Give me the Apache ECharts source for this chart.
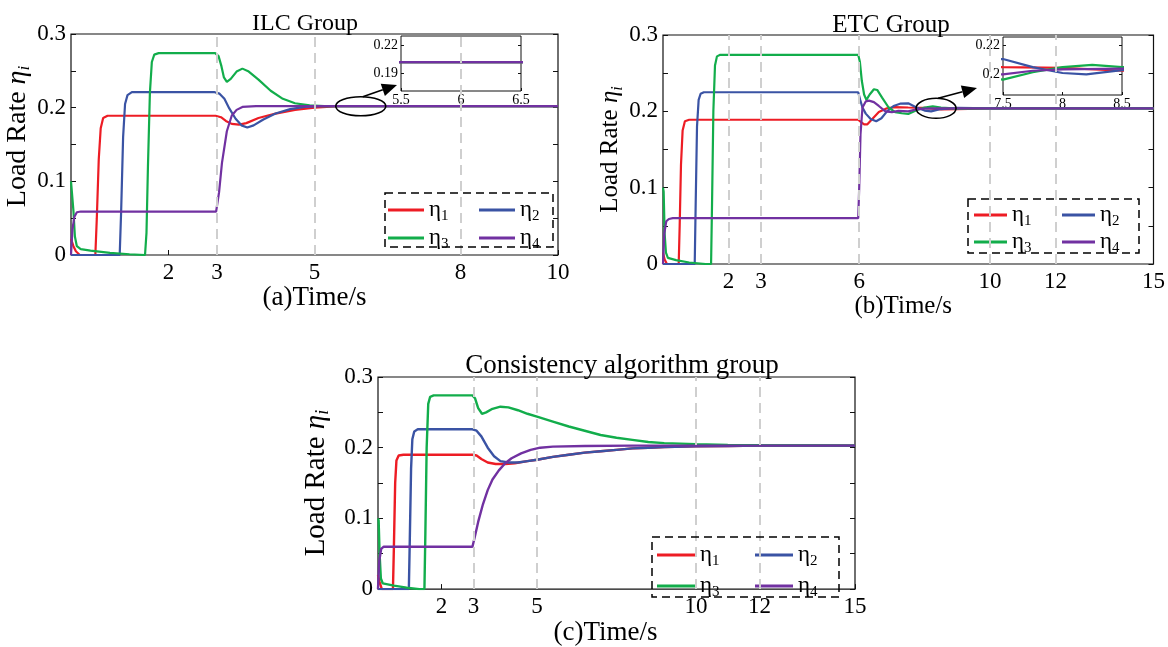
<!DOCTYPE html>
<html>
<head>
<meta charset="utf-8">
<script src="https://cdn.jsdelivr.net/npm/echarts@6/dist/echarts.min.js"></script>
<style>
html,body{margin:0;padding:0;background:#fff}
#main{width:1168px;height:647px}
</style>
</head>
<body>
<div id="main"></div>
<script>
const FONT = '"Liberation Serif","Times New Roman",serif';

const etaNames = ['η1', 'η2', 'η3', 'η4'];
const etaColors = ['#ed1c24', '#3a53a4', '#12ad4b', '#7131a1'];

// tick labels and dashed reference instants (s)
const ilcTicks = [2, 3, 5, 8, 10];
const ilcMarks = [3, 5, 8];
const etcTicks = [2, 3, 6, 10, 12, 15];
const etcMarks = [2, 3, 6, 10, 12];
const conTicks = [2, 3, 5, 10, 12, 15];
const conMarks = [3, 5, 10, 12];
const rateLabels = [0, 0.1, 0.2, 0.3];
const rateTicks = [0, 0.05, 0.1, 0.15, 0.2, 0.25, 0.3];
const ilcZoomX = [5.5, 6, 6.5];
const ilcZoomY = [0.19, 0.22];
const etcZoomX = [7.5, 8, 8.5];
const etcZoomY = [0.2, 0.22];

// (a) ILC group: [time, load rate]
const ilcEta1 = [[0,0.022],[0.05,0.012],[0.1,0.005],[0.18,0],[0.5,0],[0.53,0.05],[0.57,0.13],[0.61,0.172],[0.66,0.186],[0.75,0.189],[1,0.189],[2.97,0.189],[3.08,0.187],[3.18,0.182],[3.3,0.178],[3.45,0.177],[3.6,0.179],[3.85,0.186],[4.2,0.192],[4.6,0.197],[5,0.2],[5.5,0.202],[10,0.202]];
const ilcEta2 = [[0,0],[1.0,0],[1.03,0.06],[1.07,0.16],[1.11,0.205],[1.16,0.217],[1.25,0.221],[2.95,0.221],[3.05,0.219],[3.15,0.212],[3.25,0.199],[3.38,0.185],[3.5,0.176],[3.62,0.173],[3.75,0.176],[3.95,0.184],[4.2,0.192],[4.5,0.198],[4.8,0.201],[5.1,0.202],[10,0.202]];
const ilcEta3 = [[0,0.1],[0.02,0.098],[0.05,0.06],[0.08,0.025],[0.12,0.012],[0.2,0.008],[0.4,0.006],[0.8,0.003],[1.2,0.001],[1.52,0],[1.55,0.03],[1.58,0.12],[1.62,0.22],[1.66,0.262],[1.71,0.272],[1.8,0.274],[2.96,0.274],[3.03,0.27],[3.09,0.256],[3.14,0.241],[3.2,0.235],[3.28,0.239],[3.4,0.249],[3.52,0.253],[3.65,0.249],[3.85,0.238],[4.1,0.223],[4.35,0.212],[4.6,0.206],[4.9,0.203],[5.2,0.202],[10,0.202]];
const ilcEta4 = [[0,0],[0.03,0.035],[0.07,0.052],[0.12,0.058],[0.2,0.059],[2.98,0.059],[3.04,0.085],[3.1,0.125],[3.2,0.168],[3.3,0.189],[3.4,0.197],[3.52,0.201],[3.8,0.202],[10,0.202]];

// (b) ETC group
const etcEta1 = [[0,0.015],[0.05,0.006],[0.12,0],[0.48,0],[0.51,0.05],[0.55,0.13],[0.6,0.175],[0.67,0.187],[0.8,0.189],[5.97,0.189],[6.05,0.186],[6.15,0.183],[6.25,0.183],[6.4,0.19],[6.6,0.199],[6.85,0.204],[7.1,0.2055],[7.5,0.205],[8.0,0.2045],[8.5,0.2025],[9.0,0.203],[10,0.204],[15,0.204]];
const etcEta2 = [[0,0],[0.97,0],[1.0,0.08],[1.04,0.18],[1.09,0.215],[1.15,0.223],[1.25,0.225],[5.97,0.225],[6.03,0.215],[6.1,0.205],[6.2,0.197],[6.35,0.19],[6.52,0.187],[6.68,0.191],[6.85,0.2],[7.05,0.207],[7.25,0.21],[7.5,0.2105],[7.75,0.205],[8.0,0.201],[8.2,0.2],[8.5,0.203],[9.0,0.2045],[10,0.204],[15,0.204]];
const etcEta3 = [[0,0.1],[0.02,0.095],[0.05,0.04],[0.09,0.015],[0.15,0.008],[0.4,0.005],[0.8,0.002],[1.3,0],[1.47,0],[1.5,0.08],[1.54,0.2],[1.59,0.26],[1.65,0.272],[1.75,0.274],[5.97,0.274],[6.02,0.265],[6.08,0.24],[6.15,0.222],[6.22,0.215],[6.32,0.222],[6.45,0.229],[6.55,0.228],[6.7,0.218],[6.9,0.205],[7.1,0.199],[7.3,0.1975],[7.5,0.1965],[7.75,0.2015],[8.0,0.205],[8.25,0.2065],[8.5,0.205],[9.0,0.2035],[10,0.204],[15,0.204]];
const etcEta4 = [[0,0],[0.04,0.04],[0.1,0.056],[0.18,0.059],[0.3,0.06],[5.97,0.06],[6.0,0.1],[6.04,0.17],[6.1,0.205],[6.2,0.213],[6.3,0.214],[6.45,0.212],[6.6,0.207],[6.8,0.2],[7.0,0.199],[7.2,0.2005],[7.5,0.2],[7.75,0.2025],[8.0,0.2035],[8.5,0.204],[10,0.204],[15,0.204]];

// (c) consistency algorithm group
const conEta1 = [[0,0.02],[0.05,0.01],[0.12,0],[0.47,0],[0.5,0.06],[0.54,0.15],[0.58,0.182],[0.65,0.189],[0.8,0.19],[2.97,0.19],[3.1,0.189],[3.25,0.184],[3.45,0.179],[3.7,0.177],[4.0,0.177],[4.3,0.178],[4.7,0.181],[5.0,0.183],[5.5,0.187],[6.0,0.19],[6.5,0.193],[7.0,0.195],[7.5,0.197],[8.0,0.199],[8.5,0.2],[9.0,0.201],[10,0.202],[11,0.2025],[12,0.203],[15,0.203]];
const conEta2 = [[0,0],[0.97,0],[1.0,0.07],[1.04,0.17],[1.08,0.212],[1.14,0.223],[1.25,0.226],[2.97,0.226],[3.1,0.224],[3.25,0.216],[3.45,0.2],[3.65,0.188],[3.85,0.181],[4.1,0.179],[4.4,0.179],[4.7,0.181],[5.0,0.183],[5.5,0.187],[6.0,0.19],[6.5,0.193],[7.0,0.195],[7.5,0.197],[8.0,0.199],[8.5,0.2],[9.0,0.201],[10,0.202],[11,0.2025],[12,0.203],[15,0.203]];
const conEta3 = [[0,0.1],[0.02,0.097],[0.05,0.05],[0.09,0.015],[0.15,0.008],[0.5,0.005],[0.9,0.002],[1.3,0],[1.46,0],[1.49,0.08],[1.53,0.2],[1.58,0.262],[1.64,0.272],[1.75,0.274],[2.97,0.274],[3.05,0.27],[3.15,0.256],[3.27,0.248],[3.4,0.25],[3.6,0.255],[3.85,0.258],[4.1,0.257],[4.4,0.253],[4.7,0.248],[5.0,0.244],[5.5,0.237],[6.0,0.23],[6.5,0.224],[7.0,0.218],[7.5,0.214],[8.0,0.211],[8.5,0.208],[9.0,0.2065],[10,0.205],[11,0.204],[12,0.2035],[15,0.203]];
const conEta4 = [[0,0],[0.04,0.04],[0.1,0.057],[0.18,0.06],[2.97,0.06],[3.05,0.075],[3.15,0.095],[3.3,0.12],[3.45,0.14],[3.6,0.155],[3.8,0.168],[4.0,0.178],[4.2,0.185],[4.5,0.192],[4.8,0.197],[5.1,0.2],[5.5,0.2015],[6.5,0.2025],[8,0.203],[15,0.203]];

const ilcData = [ilcEta1, ilcEta2, ilcEta3, ilcEta4];
const etcData = [etcEta1, etcEta2, etcEta3, etcEta4];
const conData = [conEta1, conEta2, conEta3, conEta4];

const chart = echarts.init(document.getElementById('main'), null, {renderer: 'canvas'});

const axisColor = '#111';

function timeAxis(gridIndex, max, ticks, nameText, nameGap, nameSize, shiftLeft) {
  return {
    type: 'value', gridIndex, min: 0, max, position: 'bottom',
    axisLine: {show: false},
    splitLine: {show: false},
    axisTick: {show: true, inside: true, length: 5, customValues: ticks, lineStyle: {color: axisColor, width: 1}},
    axisLabel: {show: true, customValues: ticks, margin: 6, color: '#000', fontFamily: FONT, fontSize: 23},
    name: nameText, nameLocation: 'middle', nameGap,
    nameTextStyle: {color: '#000', fontFamily: FONT, fontSize: nameSize, padding: [0, 2 * shiftLeft, 0, 0]}
  };
}

function rateAxis(gridIndex, nameGap, size, shiftUp) {
  const sub = Math.round(size * 0.62);
  return {
    type: 'value', gridIndex, min: 0, max: 0.3, position: 'left',
    axisLine: {show: false},
    splitLine: {show: false},
    axisTick: {show: true, inside: true, length: 5, customValues: rateTicks, lineStyle: {color: axisColor, width: 1}},
    axisLabel: {show: true, customValues: rateLabels, margin: 5, color: '#000', fontFamily: FONT, fontSize: 23,
      formatter: v => v === 0 ? '0' : v.toFixed(1)},
    name: '{n|Load Rate }{e|η}{i|i}', nameLocation: 'middle', nameGap,
    nameTextStyle: {color: '#000', fontFamily: FONT, fontSize: size, padding: [0, 0, 0, 2 * shiftUp],
      rich: {
        n: {fontFamily: FONT, fontSize: size, lineHeight: size},
        e: {fontFamily: FONT, fontSize: size, fontStyle: 'italic', lineHeight: size},
        i: {fontFamily: FONT, fontSize: sub, fontStyle: 'italic', lineHeight: size - 14, padding: [14, 0, 0, 0]}
      }}
  };
}

function mirrorRate(gridIndex, min, max, ticks, len) {
  return {
    type: 'value', gridIndex, min, max, position: 'right',
    axisLine: {show: false}, splitLine: {show: false}, axisLabel: {show: false},
    axisTick: {show: true, inside: true, length: len, customValues: ticks, lineStyle: {color: axisColor, width: 1}}
  };
}

function zoomX(gridIndex, min, max, ticks) {
  return {
    type: 'value', gridIndex, min, max, position: 'bottom',
    axisLine: {show: false}, splitLine: {show: false},
    axisTick: {show: true, inside: true, length: 3, customValues: ticks, lineStyle: {color: axisColor, width: 1}},
    axisLabel: {show: true, customValues: ticks, margin: 2, color: '#000', fontFamily: FONT, fontSize: 14,
      showMinLabel: true, showMaxLabel: true, hideOverlap: false, formatter: v => String(v)}
  };
}

function zoomY(gridIndex, min, max, ticks) {
  return {
    type: 'value', gridIndex, min, max, position: 'left',
    axisLine: {show: false}, splitLine: {show: false},
    axisTick: {show: true, inside: true, length: 3, customValues: ticks, lineStyle: {color: axisColor, width: 1}},
    axisLabel: {show: true, customValues: ticks, margin: 3, color: '#000', fontFamily: FONT, fontSize: 14,
      formatter: v => v === 0.2 ? '0.2' : v.toFixed(2)}
  };
}

function curves(dataSet, xi, yi, width) {
  return dataSet.map((d, k) => ({
    type: 'line', name: etaNames[k], xAxisIndex: xi, yAxisIndex: yi,
    data: d, showSymbol: false, symbol: 'none', clip: true, z: 3,
    lineStyle: {color: etaColors[k], width}, itemStyle: {color: etaColors[k]},
    emphasis: {disabled: true}
  }));
}

function markers(xi, yi, marks) {
  return {
    type: 'line', xAxisIndex: xi, yAxisIndex: yi, data: [], z: 1, silent: true,
    markLine: {
      silent: true, symbol: ['none', 'none'], label: {show: false}, animation: false,
      lineStyle: {type: [10, 6], color: '#cfcfcf', width: 2},
      emphasis: {disabled: true},
      data: marks.map(v => ({xAxis: v}))
    }
  };
}

// one legend entry per item so the 2x2 layout sits on fixed columns and rows
function legendItems(cols, rows, iconW) {
  const out = [];
  etaNames.forEach((name, k) => {
    const lh = 22;
    out.push({
      data: [name], left: cols[k % 2], top: rows[Math.floor(k / 2)] - lh / 2,
      itemWidth: iconW, itemHeight: 3, icon: 'rect', padding: 0,
      selectedMode: false,
      formatter: n => '{e|η}{s|' + n.slice(1) + '}',
      textStyle: {
        color: '#000', fontFamily: FONT, fontSize: 23,
        rich: {
          e: {fontFamily: FONT, fontSize: 23, lineHeight: lh, color: '#000'},
          s: {fontFamily: FONT, fontSize: 15, lineHeight: lh - 13, padding: [13, 0, 0, 0], color: '#000'}
        }
      }
    });
  });
  return out;
}

const gridBox = {show: true, borderColor: axisColor, borderWidth: 1.2, backgroundColor: 'transparent'};
const titleStyle = size => ({fontFamily: FONT, fontSize: size, fontWeight: 'normal', color: '#000'});

const option = {
  animation: false,
  backgroundColor: '#fff',
  title: [
    {text: 'ILC Group', left: 300, top: 7, textAlign: 'center', textStyle: titleStyle(24)},
    {text: 'ETC Group', left: 886, top: 8, textAlign: 'center', textStyle: titleStyle(25)},
    {text: 'Consistency algorithm group', left: 617, top: 347, textAlign: 'center', textStyle: titleStyle(27)}
  ],
  grid: [
    Object.assign({left: 71, top: 34, width: 487, height: 221}, gridBox),
    Object.assign({left: 663, top: 35, width: 493, height: 229}, gridBox),
    Object.assign({left: 378, top: 377, width: 477, height: 226}, gridBox),
    Object.assign({left: 401, top: 36, width: 120, height: 55}, gridBox, {borderWidth: 1}),
    Object.assign({left: 1003, top: 37, width: 119, height: 58}, gridBox, {borderWidth: 1})
  ],
  xAxis: [
    timeAxis(0, 10, ilcTicks, '(a)Time/s', 27, 27, 0),
    timeAxis(1, 15, etcTicks, '(b)Time/s', 25, 25, 5),
    timeAxis(2, 15, conTicks, '(c)Time/s', 14, 27, 11),
    zoomX(3, 5.5, 6.5, ilcZoomX),
    zoomX(4, 7.5, 8.5, etcZoomX)
  ],
  yAxis: [
    rateAxis(0, 37, 28, 8),
    rateAxis(1, 30, 25, 0),
    rateAxis(2, 47, 29, 0),
    zoomY(3, 0.1705, 0.2305, ilcZoomY),
    zoomY(4, 0.186, 0.2255, etcZoomY),
    mirrorRate(0, 0, 0.3, rateTicks, 5),
    mirrorRate(1, 0, 0.3, rateTicks, 5),
    mirrorRate(2, 0, 0.3, rateTicks, 5),
    mirrorRate(3, 0.1705, 0.2305, ilcZoomY, 3),
    mirrorRate(4, 0.186, 0.2255, etcZoomY, 3)
  ],
  legend: [
    ...legendItems([388, 479], [207, 235], 36),
    ...legendItems([974, 1062], [212, 239], 33),
    ...legendItems([657, 755], [552, 583], 38)
  ],
  series: [
    markers(0, 0, ilcMarks),
    markers(1, 1, etcMarks),
    markers(2, 2, conMarks),
    ...curves(ilcData, 0, 0, 2.2),
    ...curves(etcData, 1, 1, 2.2),
    ...curves(conData, 2, 2, 2.4),
    ...curves(ilcData, 3, 3, 2.2),
    ...curves(etcData, 4, 4, 2.2)
  ]
};

chart.setOption(option);

// zoom callouts: ellipse around the steady state, arrow to the inset
function callout(gridIndex, insetGrid, centre, rx, ry, insetMin, tipOffset) {
  const c = chart.convertToPixel({gridIndex}, centre);
  const corner = chart.convertToPixel({gridIndex: insetGrid}, insetMin);
  const x1 = c[0] + 2, y1 = c[1] - ry;
  const x2 = corner[0] + tipOffset[0], y2 = corner[1] + tipOffset[1];
  const dx = x2 - x1, dy = y2 - y1, L = Math.hypot(dx, dy);
  const ux = dx / L, uy = dy / L, head = 15, half = 6.5;
  const bx = x2 - ux * head, by = y2 - uy * head;
  return [
    {type: 'ellipse', shape: {cx: c[0], cy: c[1], rx, ry}, style: {fill: 'none', stroke: '#000', lineWidth: 1.6}, z: 10},
    {type: 'line', shape: {x1, y1, x2: bx, y2: by}, style: {stroke: '#000', lineWidth: 1.6}, z: 10},
    {type: 'polygon', shape: {points: [[x2, y2], [bx - uy * half, by + ux * half], [bx + uy * half, by - ux * half]]}, style: {fill: '#000'}, z: 10}
  ];
}

// dashed frames around the legends
function legendFrame(x, y, w, h) {
  return {type: 'rect', shape: {x, y, width: w, height: h}, style: {fill: 'none', stroke: '#000', lineWidth: 1.5, lineDash: [8, 5]}, z: 10};
}

chart.setOption({
  graphic: [
    ...callout(0, 3, [5.95, 0.202], 25, 9.5, [5.5, 0.1705], [-4, -6]),
    ...callout(1, 4, [8.35, 0.204], 20, 10, [7.5, 0.186], [-26, -7]),
    legendFrame(385, 193, 168, 54),
    legendFrame(968, 199, 171, 54),
    legendFrame(652, 537, 187, 60)
  ]
});
</script>
</body>
</html>
